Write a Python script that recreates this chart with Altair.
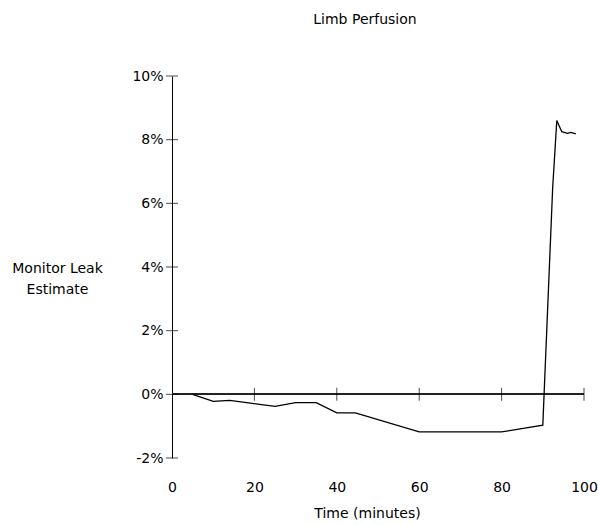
import altair as alt
import pandas as pd

minutes = [5, 10, 14, 25, 30, 35, 40, 44.5, 60, 80, 90, 92.4, 93.4, 94.6, 96, 96.8, 98]
leak_pct = [0, -0.22, -0.19, -0.38, -0.26, -0.26, -0.58, -0.58, -1.18, -1.18, -0.97,
            6.5, 8.6, 8.25, 8.2, 8.23, 8.18]
y_ticks = [-2, 0, 2, 4, 6, 8, 10]
x_ticks = [0, 20, 40, 60, 80, 100]
x_marks = [20, 40, 60, 80, 100]

FONT = "DejaVu Sans"

df = pd.DataFrame({"t": minutes, "leak": leak_pct})
yt = pd.DataFrame({"v": y_ticks})
xt = pd.DataFrame({"v": x_marks})

xscale = alt.Scale(domain=[0, 100], nice=False, zero=False)
yscale = alt.Scale(domain=[-2, 10], nice=False, zero=False)

line = alt.Chart(df).mark_line(color="black", strokeWidth=1.3).encode(
    x=alt.X("t:Q", scale=xscale,
            axis=alt.Axis(values=x_ticks, domain=False, ticks=False, grid=False,
                          labelPadding=22, labelFlush=False, labelOverlap=False,
                          title="Time (minutes)",
                          titlePadding=12, titleX=195,
                          labelFont=FONT, labelFontSize=14, labelColor="black",
                          titleFont=FONT, titleFontSize=14, titleFontWeight="normal",
                          titleColor="black")),
    y=alt.Y("leak:Q", scale=yscale,
            axis=alt.Axis(values=y_ticks, domain=True, ticks=False, grid=False,
                          labelPadding=9, labelExpr="datum.value + '%'",
                          labelFlush=False, labelOverlap=False,
                          title=["Monitor Leak", "Estimate"], titleAngle=0,
                          titleX=-115, titleY=192, titleAlign="center",
                          titleBaseline="middle", titleLineHeight=21,
                          labelFont=FONT, labelFontSize=14, labelColor="black",
                          titleFont=FONT, titleFontSize=14, titleFontWeight="normal",
                          titleColor="black", domainColor="black", domainWidth=1)),
)

zero_line = alt.Chart(df).mark_rule(color="#222222", strokeWidth=1).encode(
    x=alt.datum(0), x2=alt.datum(100), y=alt.datum(0)
)

ytick_marks = alt.Chart(yt).mark_tick(orient="horizontal", size=12, thickness=1,
                                      color="black").encode(
    x=alt.datum(0), y=alt.Y("v:Q", scale=yscale)
)

xtick_marks = alt.Chart(xt).mark_tick(orient="vertical", size=13, thickness=1,
                                      color="black").encode(
    x=alt.X("v:Q", scale=xscale), y=alt.datum(0)
)

chart = alt.layer(zero_line, ytick_marks, xtick_marks, line).properties(
    width=412, height=382,
    title=alt.TitleParams("Limb Perfusion", font=FONT, fontSize=14, fontWeight="normal",
                          color="black", anchor="middle", dx=-13, offset=42),
    autosize=alt.AutoSizeParams(type="none"),
    padding={"left": 172, "top": 76, "right": 14, "bottom": 67},
).configure(background="white").configure_view(stroke=None)

chart.save("out.html", embed_options={"renderer": "svg", "actions": False})
